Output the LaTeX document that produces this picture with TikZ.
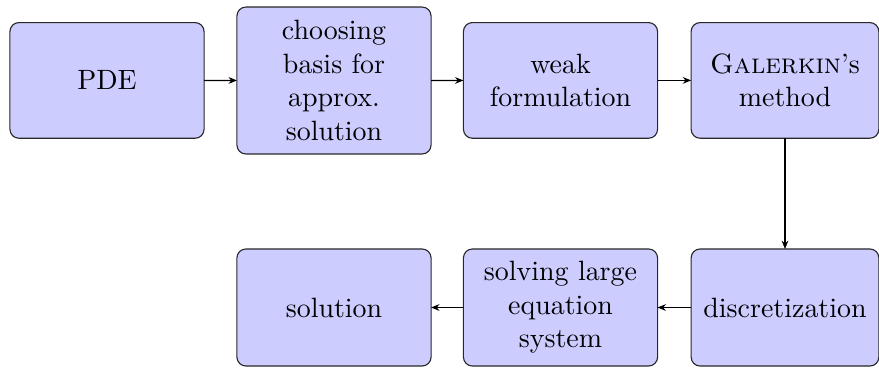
\documentclass[tikz,border=0pt]{standalone}
\usetikzlibrary{arrows.meta}
\definecolor{boxfill}{RGB}{204,204,255}
\definecolor{boxline}{RGB}{40,40,40}
\begin{document}
\begin{tikzpicture}[x=0.358pt,y=-0.358pt,
  stepbox/.style={draw=boxline,line width=0.4pt,fill=boxfill,rounded corners=3.2pt,
    inner sep=0pt,outer sep=0pt,align=center,minimum width=69.5pt,minimum height=41.4pt},
  flow/.style={-{Stealth[length=3pt,width=2.4pt]},line width=0.4pt}]
\useasboundingbox (0,0) rectangle (879,367);
\node[stepbox] (pde) at (107,80.4) {PDE};
\node[stepbox,minimum height=52.6pt] (basis) at (334,80.5) {choosing\\basis for\\approx.\\solution};
\node[stepbox] (weak) at (560.5,80.4) {weak\\formulation};
\node[stepbox,minimum width=67.2pt] (gal) at (785,80.4) {\textsc{Galerkin}'s\\method};
\node[stepbox,minimum width=67.2pt,minimum height=41.9pt] (disc) at (785,307.5) {discretization};
\node[stepbox,minimum height=41.9pt] (solve) at (560.5,307.5) {solving large\\equation\\system};
\node[stepbox,minimum height=41.9pt] (sol) at (334,307.5) {solution};
\draw[flow] (pde) -- (basis);
\draw[flow] (basis) -- (weak);
\draw[flow] (weak) -- (gal);
\draw[flow] (gal) -- (disc);
\draw[flow] (disc) -- (solve);
\draw[flow] (solve) -- (sol);
\end{tikzpicture}
\end{document}
